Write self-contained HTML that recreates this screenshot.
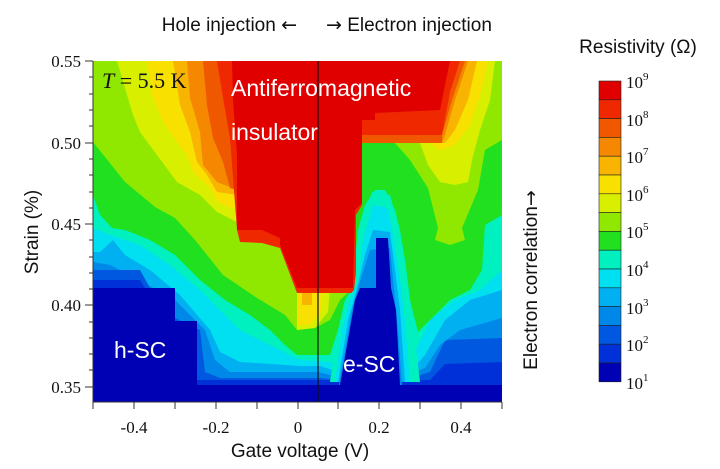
<!DOCTYPE html>
<html><head><meta charset="utf-8"><style>
html,body{margin:0;padding:0;background:#fff;}
svg{display:block;}
.s{font-family:"Liberation Sans",sans-serif;}
.r{font-family:"Liberation Serif",serif;}
.a{font-family:"DejaVu Sans",sans-serif;}
</style></head><body>
<svg width="720" height="469" viewBox="0 0 720 469" xmlns="http://www.w3.org/2000/svg">
<defs><clipPath id="c"><rect x="93" y="61" width="409" height="341"/></clipPath></defs>
<g clip-path="url(#c)">
<rect x="93" y="61" width="409" height="341" fill="#0000b4"/>
<rect x="93" y="61" width="409" height="324" fill="#0030d8"/>
<polygon fill="#0058e0" points="93,61 502,61 502,362 445,364 430,380 93,380"/>
<polygon fill="#0088e8" points="93,61 502,61 502,338 445,340 430,372 405,380 340,380 320,378 220,378 205,372 200,330 93,278"/>
<polygon fill="#00b0f0" points="93,61 502,61 502,318 460,330 440,345 425,368 405,376 335,376 318,372 230,372 215,360 205,330 175,300 130,275 110,265 93,262"/>
<polygon fill="#00e0f0" points="93,61 502,61 502,290 470,300 445,320 425,355 410,372 338,372 320,366 300,366 240,362 220,352 210,330 180,295 150,270 125,255 113,240 100,252 93,252"/>
<polygon fill="#00f0c0" points="93,61 502,61 502,270 480,290 455,300 430,320 418,345 408,368 338,368 330,362 300,360 270,345 240,330 220,310 200,290 170,265 140,245 110,235 93,228"/>
<polygon fill="#20e020" points="93,61 502,61 502,215 485,225 482,270 470,290 450,300 430,320 418,332 410,300 405,260 400,230 395,210 385,190 375,190 365,205 358,230 355,260 352,288 345,300 338,330 330,355 297,355 285,345 270,330 250,315 225,300 200,280 175,255 150,240 125,230 112,228 100,215 93,195"/>
<polygon fill="#90e800" points="93,61 353,61 353,288 340,300 330,320 315,328 297,330 285,315 257,298 223,275 195,240 175,218 155,207 125,182 93,142"/>
<polygon fill="#90e800" points="360,61 502,61 502,140 485,150 478,190 462,228 465,240 450,245 435,240 438,228 428,188 410,160 395,143 362,143"/>
<polygon fill="#d8f000" points="117,61 260,61 260,240 245,230 237,222 217,212 200,195 177,182 157,155 140,132 133,115"/>
<polygon fill="#d8f000" points="395,61 495,61 490,100 480,130 472,160 468,182 455,185 440,182 428,165 420,143 395,143"/>
<polygon fill="#d8f000" points="297,288 330,288 328,312 315,328 297,330"/>
<polygon fill="#f8e000" points="147,61 260,61 260,215 237,210 230,208 217,202 210,188 193,172 187,155 177,142 163,122 153,98"/>
<polygon fill="#f8e000" points="395,61 488,61 480,95 470,125 455,145 440,150 430,143 395,143"/>
<polygon fill="#f8e000" points="297,288 322,288 322,310 310,325 297,325"/>
<polygon fill="#f8b400" points="173,61 260,61 260,200 237,195 217,192 207,175 197,162 190,132 180,105"/>
<polygon fill="#f8b400" points="395,61 477,61 468,100 455,130 445,143 395,143"/>
<polygon fill="#f8b400" points="302,288 312,288 312,305 302,305"/>
<polygon fill="#f58800" points="187,61 260,61 260,192 237,190 217,182 203,165 200,132 190,98"/>
<polygon fill="#f58800" points="362,61 468,61 455,100 445,135 442,143 362,143"/>
<polygon fill="#f05800" points="203,61 260,61 260,190 237,190 230,188 223,162 213,138 207,105"/>
<polygon fill="#f05800" points="362,61 465,61 452,100 442,135 442,143 362,143"/>
<polygon fill="#f02800" points="217,61 460,61 450,92 442,135 362,135 362,205 356,215 356,293 297,293 280,248 262,243 240,242 237,230 230,138 223,98"/>
<polygon fill="#e00000" points="232,61 450,61 445,85 440,110 375,113 375,120 362,120 362,203 355,210 353,288 297,288 280,245 280,238 262,230 237,230 237,155 233,100"/>
<polygon fill="#00f0c0" points="330,382 338,330 345,300 354,290 358,255 364,215 372,192 390,195 398,225 405,260 410,300 415,340 420,382"/>
<polygon fill="#00e0f0" points="335,382 342,330 350,300 358,282 363,240 373,205 388,208 394,240 400,280 405,320 410,382"/>
<polygon fill="#00b0f0" points="338,382 348,320 356,292 365,255 373,230 390,232 395,270 400,310 405,382"/>
<polygon fill="#0088e8" points="339,385 352,310 358,288 370,250 390,248 394,290 398,330 402,385"/>
<polygon fill="#0058e0" points="93,270 140,270 150,288 93,288"/>
<polygon fill="#0030d8" points="93,280 140,280 145,288 93,288"/>
<polygon fill="#0000b4" points="340,385 355,300 360,288 376,288 376,238 388,238 391,288 396,310 400,385"/>
<polygon fill="#0000b4" points="93,288 175,288 175,321 197,321 197,402 93,402"/>
<rect x="93" y="385" width="409" height="17" fill="#0000b4"/>
<line x1="318" y1="61" x2="318" y2="402" stroke="#111" stroke-width="1.2"/>
</g>
<g stroke="#333" stroke-width="1">
<line x1="93" y1="61" x2="93" y2="402"/>
<line x1="93" y1="402" x2="502" y2="402"/>
<line x1="85" y1="61" x2="93" y2="61"/><line x1="85" y1="143" x2="93" y2="143"/><line x1="85" y1="224" x2="93" y2="224"/><line x1="85" y1="305" x2="93" y2="305"/><line x1="85" y1="387" x2="93" y2="387"/>
<line x1="89" y1="77" x2="93" y2="77"/><line x1="89" y1="94" x2="93" y2="94"/><line x1="89" y1="110" x2="93" y2="110"/><line x1="89" y1="126" x2="93" y2="126"/>
<line x1="89" y1="159" x2="93" y2="159"/><line x1="89" y1="175" x2="93" y2="175"/><line x1="89" y1="192" x2="93" y2="192"/><line x1="89" y1="208" x2="93" y2="208"/>
<line x1="89" y1="240" x2="93" y2="240"/><line x1="89" y1="257" x2="93" y2="257"/><line x1="89" y1="273" x2="93" y2="273"/><line x1="89" y1="289" x2="93" y2="289"/>
<line x1="89" y1="322" x2="93" y2="322"/><line x1="89" y1="338" x2="93" y2="338"/><line x1="89" y1="354" x2="93" y2="354"/><line x1="89" y1="370" x2="93" y2="370"/>
<line x1="93" y1="402" x2="93" y2="409"/><line x1="134" y1="402" x2="134" y2="409"/><line x1="175" y1="402" x2="175" y2="409"/><line x1="216" y1="402" x2="216" y2="409"/><line x1="257" y1="402" x2="257" y2="409"/><line x1="298" y1="402" x2="298" y2="409"/><line x1="338" y1="402" x2="338" y2="409"/><line x1="379" y1="402" x2="379" y2="409"/><line x1="420" y1="402" x2="420" y2="409"/><line x1="461" y1="402" x2="461" y2="409"/><line x1="502" y1="402" x2="502" y2="409"/>
</g>
<g class="r" font-size="17" fill="#111" text-anchor="end">
<text x="81" y="67">0.55</text><text x="81" y="149">0.50</text><text x="81" y="230">0.45</text><text x="81" y="311">0.40</text><text x="81" y="393">0.35</text>
</g>
<g class="r" font-size="17" fill="#111" text-anchor="middle">
<text x="134" y="433">-0.4</text><text x="216" y="433">-0.2</text><text x="298" y="433">0</text><text x="379" y="433">0.2</text><text x="461" y="433">0.4</text>
</g>
<text class="s" x="300" y="457" font-size="19" text-anchor="middle" fill="#111">Gate voltage (V)</text>
<text class="s" transform="translate(38,232) rotate(-90)" font-size="19" text-anchor="middle" fill="#111">Strain (%)</text>
<text class="s" x="297" y="31" font-size="19" text-anchor="end" fill="#111">Hole injection <tspan class="a">←</tspan></text>
<text class="s" x="326" y="31" font-size="19" fill="#111"><tspan class="a">→</tspan> Electron injection</text>
<text class="s" x="638" y="53" font-size="19" text-anchor="middle" fill="#111">Resistivity (Ω)</text>
<text class="s" transform="translate(537,280) rotate(-90)" font-size="19" text-anchor="middle" fill="#111">Electron correlation<tspan class="a">→</tspan></text>
<text class="r" x="102" y="88" font-size="22" fill="#111"><tspan font-style="italic">T</tspan> = 5.5 K</text>
<text class="s" x="231" y="96" font-size="23" fill="#fff">Antiferromagnetic</text>
<text class="s" x="231" y="140" font-size="23" fill="#fff">insulator</text>
<text class="s" x="114" y="358" font-size="23" fill="#fff">h-SC</text>
<text class="s" x="343" y="372" font-size="23" fill="#fff">e-SC</text>
<g stroke="#222" stroke-width="0.6">
<rect x="599" y="81" width="22" height="18.8" fill="#e00000"/>
<rect x="599" y="99.8" width="22" height="18.8" fill="#f02800"/>
<rect x="599" y="118.6" width="22" height="18.8" fill="#f05800"/>
<rect x="599" y="137.4" width="22" height="18.8" fill="#f58800"/>
<rect x="599" y="156.2" width="22" height="18.8" fill="#f8b400"/>
<rect x="599" y="175" width="22" height="18.8" fill="#f8e000"/>
<rect x="599" y="193.8" width="22" height="18.8" fill="#d8f000"/>
<rect x="599" y="212.6" width="22" height="18.8" fill="#90e800"/>
<rect x="599" y="231.4" width="22" height="18.8" fill="#20e020"/>
<rect x="599" y="250.2" width="22" height="18.8" fill="#00f0c0"/>
<rect x="599" y="269" width="22" height="18.8" fill="#00e0f0"/>
<rect x="599" y="287.8" width="22" height="18.8" fill="#00b0f0"/>
<rect x="599" y="306.6" width="22" height="18.8" fill="#0088e8"/>
<rect x="599" y="325.4" width="22" height="18.8" fill="#0058e0"/>
<rect x="599" y="344.2" width="22" height="18.8" fill="#0030d8"/>
<rect x="599" y="363" width="22" height="18.8" fill="#0000b4"/>
</g>
<g class="r" font-size="17" fill="#111">
<text x="626" y="88">10<tspan font-size="11" dy="-8">9</tspan></text>
<text x="626" y="126">10<tspan font-size="11" dy="-8">8</tspan></text>
<text x="626" y="163">10<tspan font-size="11" dy="-8">7</tspan></text>
<text x="626" y="201">10<tspan font-size="11" dy="-8">6</tspan></text>
<text x="626" y="238">10<tspan font-size="11" dy="-8">5</tspan></text>
<text x="626" y="276">10<tspan font-size="11" dy="-8">4</tspan></text>
<text x="626" y="314">10<tspan font-size="11" dy="-8">3</tspan></text>
<text x="626" y="351">10<tspan font-size="11" dy="-8">2</tspan></text>
<text x="626" y="389">10<tspan font-size="11" dy="-8">1</tspan></text>
</g>
</svg>
</body></html>
